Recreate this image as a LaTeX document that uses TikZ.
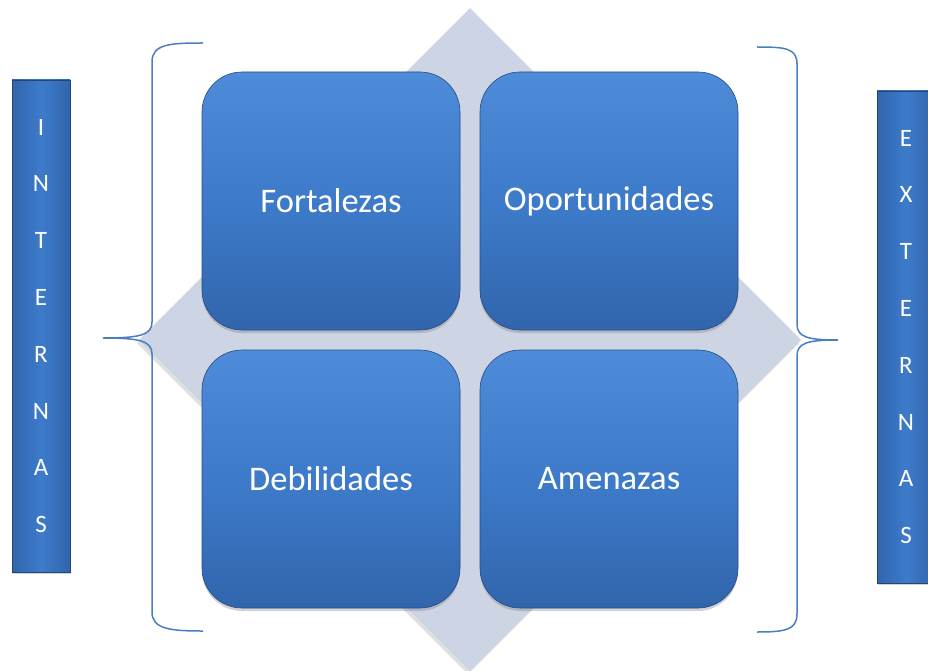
\documentclass[tikz,border=0pt]{standalone}
\usepackage{fontspec}
\setmainfont{Carlito}
\usetikzlibrary{shadows}
\definecolor{boxtop}{HTML}{4E8BD8}
\definecolor{boxmid}{HTML}{3D7BCA}
\definecolor{boxbot}{HTML}{3165AC}
\definecolor{diamondgray}{HTML}{CDD4E4}
\definecolor{bracketblue}{HTML}{4A7EBF}

\begin{document}
\begin{tikzpicture}[
    x=1pt, y=-1pt,
    quadrant/.style={rectangle, rounded corners=40pt, minimum width=258pt, minimum height=258pt,
      top color=boxtop, bottom color=boxbot, middle color=boxmid, draw=boxbot!75!black, line width=0.6pt,
      drop shadow={shadow xshift=0pt, shadow yshift=-3pt, opacity=0.35},
      text=white, font=\fontsize{34.5}{40}\selectfont},
    sidebar/.style={rectangle, minimum width=58pt, minimum height=492pt, align=center,
      left color=boxbot, right color=boxbot, middle color=boxmid, draw=boxbot!70!black, line width=0.6pt,
      drop shadow={shadow xshift=1pt, shadow yshift=-2pt, opacity=0.35},
      text=white, font=\fontsize{25}{56.8}\selectfont},
    bracket/.style={draw=bracketblue, line width=1.5pt}
  ]
  \useasboundingbox (0,0) rectangle (928,671);
  \clip (0,0) rectangle (928,671);

  % background diamond
  \fill[diamondgray, drop shadow={shadow xshift=-2pt, shadow yshift=-3pt, opacity=0.25}]
    (470,8) -- (801,340) -- (470,671) -- (139,340) -- cycle;

  \node[quadrant] (fortalezas) at (331,201) {Fortalezas};
  \node[quadrant] (oportunidades) at (609,201) {Oportunidades};
  \node[quadrant] (debilidades) at (331,479) {Debilidades};
  \node[quadrant] (amenazas) at (609,479) {Amenazas};

  \node[sidebar] (internas) at (41,326) {I\\N\\T\\E\\R\\N\\A\\S};
  \node[sidebar] (externas) at (906,337) {E\\X\\T\\E\\R\\N\\A\\S};

  % brackets
  \draw[bracket] (203,43) .. controls (170,43) and (152,44) .. (152,62) -- (152,322)
    .. controls (152,335) and (140,338) .. (103,338)
    .. controls (140,338) and (152,341) .. (152,354) -- (152,612)
    .. controls (152,629) and (170,631) .. (203,631);
  \draw[bracket] (757,47) .. controls (785,47) and (797,48) .. (797,64) -- (797,324)
    .. controls (797,337) and (807,340) .. (838,340)
    .. controls (807,340) and (797,343) .. (797,356) -- (797,614)
    .. controls (797,630) and (785,632) .. (757,632);
\end{tikzpicture}
\end{document}
